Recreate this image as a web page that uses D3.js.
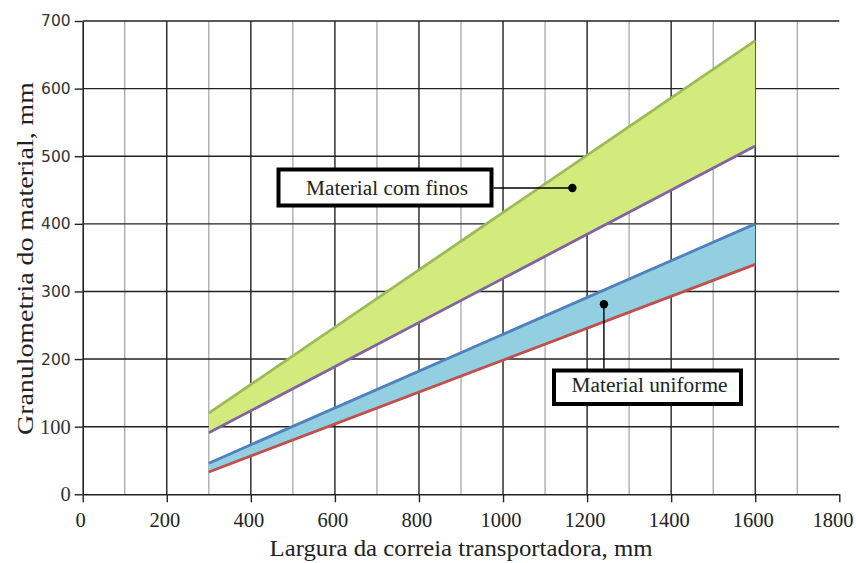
<!DOCTYPE html>
<html><head><meta charset="utf-8">
<script src="https://cdn.jsdelivr.net/npm/d3@7"></script>
<style>body{margin:0;background:#fff}svg{display:block}</style>
</head><body>
<svg id="c" width="856" height="563"></svg>
<script>
const widths = [300, 1600];
const finosTop = [120, 671];
const finosBottom = [91, 515];
const uniformeTop = [46, 400];
const uniformeBottom = [33, 340];
const xTicks = [0, 200, 400, 600, 800, 1000, 1200, 1400, 1600, 1800];
const yTicks = [0, 100, 200, 300, 400, 500, 600, 700];
const labels = [
  {text: "Material com finos", anchorX: 1165, anchorY: 453, box: [276.5, 167.5, 217, 40], lead: "h", tw: 162, base: 194.5},
  {text: "Material uniforme", anchorX: 1240, anchorY: 281, box: [552, 368.5, 191, 37.5], lead: "v", tw: 156, base: 392}
];

const svg = d3.select("#c");
const x = d3.scaleLinear().domain([0, 1800]).range([82.7, 839.3]);
const y = d3.scaleLinear().domain([0, 700]).range([494.3, 21]);
const serif = "'Liberation Serif', 'Times New Roman', serif";
const sans = "'DejaVu Sans', 'Noto Sans', sans-serif";

// vertical grid
const vg = d3.range(100, 1800, 100);
svg.append("g").selectAll("line").data(vg).join("line")
  .attr("x1", d => x(d)).attr("x2", d => x(d))
  .attr("y1", y(0)).attr("y2", y(700))
  .attr("stroke", d => d % 200 === 0 ? "#222" : "#a0a0a0")
  .attr("stroke-width", d => d % 200 === 0 ? 1.4 : 1.2);
// horizontal grid
svg.append("g").selectAll("line").data(yTicks.filter(d => d > 0)).join("line")
  .attr("x1", x(0)).attr("x2", x(1800))
  .attr("y1", d => y(d)).attr("y2", d => y(d))
  .attr("stroke", "#222").attr("stroke-width", 1.4);

// bands
const data = widths.map((w, i) => ({w, ft: finosTop[i], fb: finosBottom[i], ut: uniformeTop[i], ub: uniformeBottom[i]}));
svg.append("path").datum(data)
  .attr("d", d3.area().x(d => x(d.w)).y0(d => y(d.fb)).y1(d => y(d.ft)))
  .attr("fill", "#d3ea7c");
svg.append("path").datum(data)
  .attr("d", d3.area().x(d => x(d.w)).y0(d => y(d.ub)).y1(d => y(d.ut)))
  .attr("fill", "#92cfe0");
const lines = [["ft", "#9bbb59"], ["fb", "#8064a2"], ["ut", "#4f81bd"], ["ub", "#c0504d"]];
lines.forEach(([k, c]) => {
  svg.append("path").datum(data)
    .attr("d", d3.line().x(d => x(d.w)).y(d => y(d[k])))
    .attr("fill", "none").attr("stroke", c).attr("stroke-width", 2.8);
});

// axes
const xa = svg.append("g").attr("transform", `translate(0,${y(0)})`)
  .call(d3.axisBottom(x).tickValues(xTicks).tickSize(8).tickSizeOuter(0).tickFormat(d3.format("d")));
xa.attr("font-size", null).attr("font-family", null);
xa.select(".domain").attr("stroke", "#222").attr("stroke-width", 1.6);
xa.selectAll(".tick line").attr("stroke", "#222").attr("stroke-width", 1.4);
xa.selectAll("text").style("font-family", serif).style("font-size", "20.5px").attr("fill", "#222")
  .attr("y", 32.3).attr("dy", null)
  .attr("text-anchor", d => d === 1800 ? "end" : "middle")
  .attr("x", d => d === 1800 ? 853 - x(1800) : -2.5);

const ya = svg.append("g").attr("transform", `translate(${x(0)},0)`)
  .call(d3.axisLeft(y).tickValues(yTicks).tickSize(8).tickSizeOuter(0).tickFormat(d3.format("d")));
ya.attr("font-size", null).attr("font-family", null);
ya.select(".domain").attr("stroke", "#222").attr("stroke-width", 1.6);
ya.selectAll(".tick line").attr("stroke", "#222").attr("stroke-width", 1.4);
ya.selectAll("text")
  .style("font-family", d => d >= 200 ? sans : serif)
  .style("font-size", d => d >= 200 ? "15.5px" : "20.5px")
  .attr("fill", "#333").attr("x", -12);

// axis titles
svg.append("text").attr("x", 461).attr("y", 556).attr("text-anchor", "middle")
  .style("font-family", serif).style("font-size", "22.5px").attr("fill", "#222")
  .attr("textLength", 383).attr("lengthAdjust", "spacingAndGlyphs")
  .text("Largura da correia transportadora, mm");
svg.append("text").attr("transform", "translate(33,258.5) rotate(-90)").attr("text-anchor", "middle")
  .style("font-family", serif).style("font-size", "23px").attr("fill", "#222")
  .attr("textLength", 353).attr("lengthAdjust", "spacingAndGlyphs")
  .text("Granulometria do material, mm");

// labels
labels.forEach(l => {
  const [bx, by, bw, bh] = l.box;
  const ax = x(l.anchorX), ay = y(l.anchorY);
  if (l.lead === "h") {
    svg.append("line").attr("x1", bx + bw).attr("x2", ax).attr("y1", ay).attr("y2", ay)
      .attr("stroke", "#000").attr("stroke-width", 1.4);
  } else {
    svg.append("line").attr("x1", ax).attr("x2", ax).attr("y1", ay).attr("y2", by)
      .attr("stroke", "#000").attr("stroke-width", 1.4);
  }
  svg.append("circle").attr("cx", ax).attr("cy", ay).attr("r", 4.2).attr("fill", "#000");
  svg.append("rect").attr("x", bx + 2).attr("y", by + 2).attr("width", bw - 4).attr("height", bh - 4)
    .attr("fill", "#fff").attr("stroke", "#000").attr("stroke-width", 4);
  svg.append("text").attr("x", bx + bw / 2 + 2).attr("y", l.base).attr("text-anchor", "middle")
    .style("font-family", serif).style("font-size", "20.5px").attr("fill", "#222")
    .attr("textLength", l.tw).attr("lengthAdjust", "spacingAndGlyphs").text(l.text);
});
</script>
</body></html>
